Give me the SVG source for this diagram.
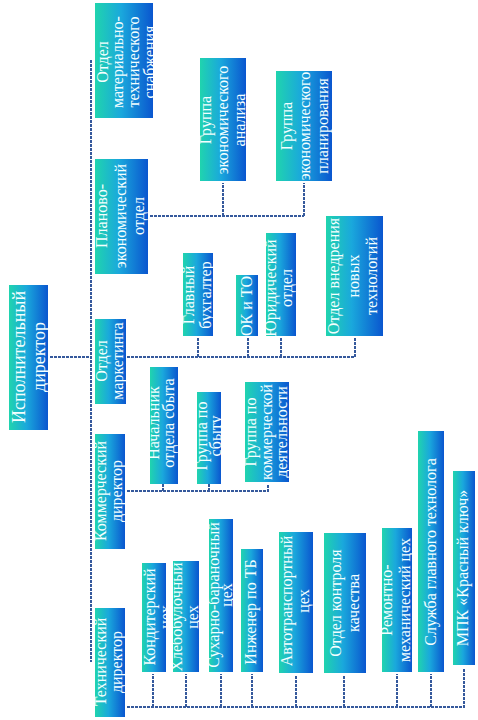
<svg xmlns="http://www.w3.org/2000/svg" width="478" height="720" viewBox="0 0 478 720">
<defs>
<linearGradient id="grad" x1="0" y1="0" x2="1" y2="0">
<stop offset="0" stop-color="#20d4ae"/>
<stop offset="0.45" stop-color="#1aa8dc"/>
<stop offset="1" stop-color="#0a56cf"/>
</linearGradient>
<style>
.box{fill:url(#grad)}
text{font-family:"Liberation Serif","Times New Roman",serif;font-size:16px;fill:#f4ffff;text-anchor:middle}
.big{font-size:18px}
.con{fill:none;stroke:#35599c;stroke-width:2;stroke-dasharray:3 1}
</style>
</defs>
<rect width="478" height="720" fill="#ffffff"/>
<g id="connectors">
<path class="con" d="M50 357H91M91 60V662"/>
<path class="con" d="M150 216H304M223 216V183M304 216V183"/>
<path class="con" d="M127 357H355V338M198 357V338M248 357V338M281 357V338"/>
<path class="con" d="M127 491H268V485M163 491V484M209 491V484"/>
<path class="con" d="M127 707H464V668M153 707V674M186 707V674M221 707V674M252 707V674M296 707V675M344 707V675M397 707V674M431 707V674"/>
</g>
<g id="n-exec"><svg x="9" y="285" width="39" height="145"><rect class="box" width="100%" height="100%"/><text class="big" transform="translate(16,72) rotate(-90)"><tspan x="0">Исполнительный</tspan><tspan x="0" dy="20">директор</tspan></text></svg></g>
<g id="n-mts"><svg x="95" y="3" width="58" height="115"><rect class="box" width="100%" height="100%"/><text transform="translate(13,59) rotate(-90)"><tspan x="0">Отдел</tspan><tspan x="0" dy="15">материально-</tspan><tspan x="0" dy="16">технического</tspan><tspan x="0" dy="16">снабжения</tspan></text></svg></g>
<g id="n-plan"><svg x="95" y="159" width="53" height="115"><rect class="box" width="100%" height="100%"/><text transform="translate(12,57) rotate(-90)"><tspan x="0">Планово-</tspan><tspan x="0" dy="19">экономический</tspan><tspan x="0" dy="18">отдел</tspan></text></svg></g>
<g id="n-mark"><svg x="95" y="319" width="31" height="85"><rect class="box" width="100%" height="100%"/><text transform="translate(12,42) rotate(-90)"><tspan x="0">Отдел</tspan><tspan x="0" dy="16">маркетинга</tspan></text></svg></g>
<g id="n-komdir"><svg x="95" y="434" width="30" height="115"><rect class="box" width="100%" height="100%"/><text transform="translate(11,57) rotate(-90)"><tspan x="0">Коммерческий</tspan><tspan x="0" dy="16">директор</tspan></text></svg></g>
<g id="n-tehdir"><svg x="95" y="608" width="30" height="109"><rect class="box" width="100%" height="100%"/><text transform="translate(11,54) rotate(-90)"><tspan x="0">Технический</tspan><tspan x="0" dy="16">директор</tspan></text></svg></g>
<g id="n-ganal"><svg x="200" y="58" width="46" height="123"><rect class="box" width="100%" height="100%"/><text transform="translate(11,62) rotate(-90)"><tspan x="0">Группа</tspan><tspan x="0" dy="17">экономического</tspan><tspan x="0" dy="17">анализа</tspan></text></svg></g>
<g id="n-gplan"><svg x="276" y="71" width="56" height="110"><rect class="box" width="100%" height="100%"/><text transform="translate(16,55) rotate(-90)"><tspan x="0">Группа</tspan><tspan x="0" dy="18">экономического</tspan><tspan x="0" dy="18">планирования</tspan></text></svg></g>
<g id="n-buh"><svg x="183" y="253" width="30" height="83"><rect class="box" width="100%" height="100%"/><text transform="translate(11,42) rotate(-90)"><tspan x="0">Главный</tspan><tspan x="0" dy="17">бухгалтер</tspan></text></svg></g>
<g id="n-okto"><svg x="236" y="275" width="22" height="61"><rect class="box" width="100%" height="100%"/><text transform="translate(16,31) rotate(-90)">ОК и ТО</text></svg></g>
<g id="n-jur"><svg x="266" y="233" width="30" height="103"><rect class="box" width="100%" height="100%"/><text transform="translate(10,55) rotate(-90)"><tspan x="0">Юридический</tspan><tspan x="0" dy="16">отдел</tspan></text></svg></g>
<g id="n-vnedr"><svg x="326" y="216" width="57" height="120"><rect class="box" width="100%" height="100%"/><text transform="translate(13,60) rotate(-90)"><tspan x="0">Отдел внедрения</tspan><tspan x="0" dy="20">новых</tspan><tspan x="0" dy="18">технологий</tspan></text></svg></g>
<g id="n-nach"><svg x="150" y="367" width="28" height="117"><rect class="box" width="100%" height="100%"/><text transform="translate(9,56) rotate(-90)"><tspan x="0">Начальник</tspan><tspan x="0" dy="15">отдела сбыта</tspan></text></svg></g>
<g id="n-gsbyt"><svg x="197" y="392" width="24" height="92"><rect class="box" width="100%" height="100%"/><text transform="translate(10,44) rotate(-90)"><tspan x="0">Группа по</tspan><tspan x="0" dy="14">сбыту</tspan></text></svg></g>
<g id="n-gkom"><svg x="245" y="382" width="44" height="100"><rect class="box" width="100%" height="100%"/><text transform="translate(11,50) rotate(-90)"><tspan x="0">Группа по</tspan><tspan x="0" dy="16">коммерческой</tspan><tspan x="0" dy="15">деятельности</tspan></text></svg></g>
<g id="n-kond"><svg x="142" y="563" width="24" height="109"><rect class="box" width="100%" height="100%"/><text transform="translate(13,54) rotate(-90)"><tspan x="0">Кондитерский</tspan><tspan x="0" dy="16">цех</tspan></text></svg></g>
<g id="n-hleb"><svg x="173" y="561" width="26" height="111"><rect class="box" width="100%" height="100%"/><text transform="translate(9,56) rotate(-90)"><tspan x="0">Хлебобулочный</tspan><tspan x="0" dy="16">цех</tspan></text></svg></g>
<g id="n-suh"><svg x="209" y="519" width="24" height="153"><rect class="box" width="100%" height="100%"/><text transform="translate(10,76) rotate(-90)"><tspan x="0">Сухарно-бараночный</tspan><tspan x="0" dy="13">цех</tspan></text></svg></g>
<g id="n-ing"><svg x="241" y="549" width="22" height="123"><rect class="box" width="100%" height="100%"/><text transform="translate(15,63) rotate(-90)">Инженер по ТБ</text></svg></g>
<g id="n-avto"><svg x="279" y="532" width="34" height="141"><rect class="box" width="100%" height="100%"/><text transform="translate(13,69) rotate(-90)"><tspan x="0">Автотранспортный</tspan><tspan x="0" dy="17">цех</tspan></text></svg></g>
<g id="n-okk"><svg x="324" y="533" width="42" height="140"><rect class="box" width="100%" height="100%"/><text transform="translate(17,70) rotate(-90)"><tspan x="0">Отдел контроля</tspan><tspan x="0" dy="18">качества</tspan></text></svg></g>
<g id="n-rem"><svg x="382" y="528" width="30" height="144"><rect class="box" width="100%" height="100%"/><text transform="translate(10,72) rotate(-90)"><tspan x="0">Ремонтно-</tspan><tspan x="0" dy="18">механический цех</tspan></text></svg></g>
<g id="n-tehnolog"><svg x="418" y="431" width="26" height="241"><rect class="box" width="100%" height="100%"/><text transform="translate(18,121) rotate(-90)">Служба главного технолога</text></svg></g>
<g id="n-mpk"><svg x="453" y="471" width="22" height="194"><rect class="box" width="100%" height="100%"/><text transform="translate(15,97) rotate(-90)">МПК «Красный ключ»</text></svg></g>
</svg>
